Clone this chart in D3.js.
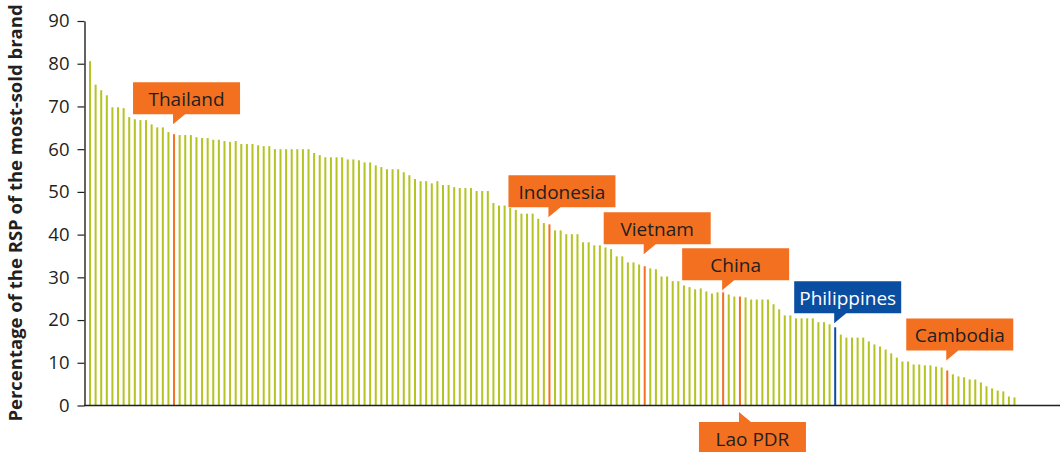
<!DOCTYPE html>
<html>
<head>
<meta charset="utf-8">
<script src="https://cdn.jsdelivr.net/npm/d3@7"></script>
<style>
  html, body { margin: 0; padding: 0; background: #fff; }
  svg { display: block; }
  text { font-family: "Open Sans", "DejaVu Sans", sans-serif; }
</style>
</head>
<body>
<svg id="chart" width="1063" height="452"></svg>
<script>
// ---- Data ----
const values = [
  80.6,75.1,73.8,72.6,69.8,69.8,69.6,67.5,67.0,66.8,
  66.8,65.8,65.1,65.1,64.0,63.5,63.3,63.3,63.3,62.8,
  62.6,62.6,62.2,62.2,61.9,61.7,61.9,61.2,61.2,61.2,
  60.9,60.7,60.7,60.0,60.0,60.0,60.0,60.0,60.0,60.0,
  59.1,58.6,58.1,58.1,58.1,58.1,57.6,57.6,57.4,56.9,
  56.9,56.2,55.8,55.3,55.3,55.3,54.6,53.9,53.0,52.5,
  52.5,52.0,52.5,51.6,51.6,51.1,50.9,50.9,50.9,50.2,
  50.2,50.2,47.4,46.8,46.8,46.3,45.8,44.9,44.9,44.9,
  43.7,42.7,42.4,41.0,41.0,40.1,40.1,40.1,38.2,38.2,
  37.5,37.5,37.0,36.6,34.9,34.9,33.5,33.5,33.0,32.6,
  32.1,31.9,30.2,30.2,29.1,29.1,28.1,27.7,27.2,27.4,
  26.7,26.2,26.5,26.5,26.0,25.5,25.5,25.3,24.8,24.8,
  24.8,24.8,23.7,22.5,21.1,21.1,20.4,20.4,20.4,20.4,
  19.5,19.5,19.0,18.3,16.6,15.9,15.9,15.9,15.9,15.0,
  14.3,13.8,13.1,12.2,11.2,10.3,10.3,9.6,9.6,9.4,
  9.4,9.1,8.9,8.2,7.3,6.8,6.6,6.1,6.1,5.4,
  4.5,4.0,3.5,3.3,2.1,1.9
];
const highlightNames = ["Thailand", "Indonesia", "Vietnam", "China", "Lao PDR", "Philippines", "Cambodia"];
const highlightIndex = [15, 82, 99, 113, 116, 133, 153];
const yTicks = [0, 10, 20, 30, 40, 50, 60, 70, 80, 90];
const yTitle = "Percentage of the RSP of the most-sold brand";

// ---- Styles / layout ----
const GREEN = "#b5c424", ORANGE = "#f37021", BLUE = "#0a4ea2", INK = "#231f20";
const highlightColor = { "Philippines": BLUE };
const calloutStyle = {
  "Thailand":    { gap: 20 },
  "Indonesia":   { gap: 17 },
  "Vietnam":     { gap: 22 },
  "China":       { gap: 12 },
  "Philippines": { gap: 14 },
  "Cambodia":    { gap: 20 },
  "Lao PDR":     { below: true }
};

const svg = d3.select("#chart");
const baseY = 405.5;
const y = d3.scaleLinear().domain([0, 90]).range([baseY, 21]);
const x = d3.scaleBand()
  .domain(d3.range(values.length))
  .range([87.2, 1017.3])
  .paddingInner(0.64)
  .paddingOuter(0.32);

// bars
const hlMap = new Map(highlightIndex.map((d, k) => [d, highlightNames[k]]));
svg.append("g").selectAll("rect")
  .data(values)
  .join("rect")
  .attr("x", (d, i) => x(i))
  .attr("width", x.bandwidth())
  .attr("y", d => y(d))
  .attr("height", d => baseY - y(d))
  .attr("fill", (d, i) => {
    if (!hlMap.has(i)) return GREEN;
    return highlightColor[hlMap.get(i)] || ORANGE;
  });

// y axis
const yAxis = svg.append("g")
  .attr("transform", "translate(84.5,0)")
  .call(d3.axisLeft(y).tickValues(yTicks).tickSize(7).tickSizeOuter(0).tickPadding(8));
yAxis.select(".domain").attr("stroke", INK).attr("stroke-width", 1.4);
yAxis.selectAll(".tick line").attr("stroke", INK).attr("stroke-width", 1.2);
yAxis.selectAll(".tick text")
  .attr("fill", INK)
  .style("font-size", "18.5px")
  .style("font-family", "'Open Sans', sans-serif");

// x axis baseline
svg.append("line")
  .attr("x1", 84).attr("x2", 1060)
  .attr("y1", baseY).attr("y2", baseY)
  .attr("stroke", INK).attr("stroke-width", 1.5);

// y title
svg.append("text")
  .attr("transform", `translate(22,${213}) rotate(-90)`)
  .attr("text-anchor", "middle")
  .attr("fill", INK)
  .style("font-size", "18.5px")
  .style("font-weight", "700")
  .text(yTitle);

// callouts
const boxH = 32, boxW = 107, ptrH = 10, ptrW = 12;
highlightIndex.forEach((idx, k) => {
  const name = highlightNames[k];
  const st = calloutStyle[name];
  const cx = x(idx) + x.bandwidth() / 2;
  const tipX = cx - 1;
  const left = tipX - 40;
  const fill = highlightColor[name] || ORANGE;
  const g = svg.append("g");
  let path, textY;
  if (st.below) {
    const top = baseY + ptrH + 6.5;
    path = `M${left},${top} H${tipX} V${top - ptrH} L${tipX + ptrW},${top} H${left + boxW} V${top + boxH} H${left} Z`;
    textY = top + 23.5;
  } else {
    const bottom = y(values[idx]) - st.gap;
    const top = bottom - boxH;
    path = `M${left},${top} H${left + boxW} V${bottom} H${tipX + ptrW} L${tipX},${bottom + ptrH} V${bottom} H${left} Z`;
    textY = top + 23.5;
  }
  g.append("path").attr("d", path).attr("fill", fill);
  g.append("text")
    .attr("x", left + boxW / 2)
    .attr("y", textY)
    .attr("text-anchor", "middle")
    .attr("fill", name === "Philippines" ? "#ffffff" : INK)
    .style("font-size", "19px")
    .text(name);
});
</script>
</body>
</html>
